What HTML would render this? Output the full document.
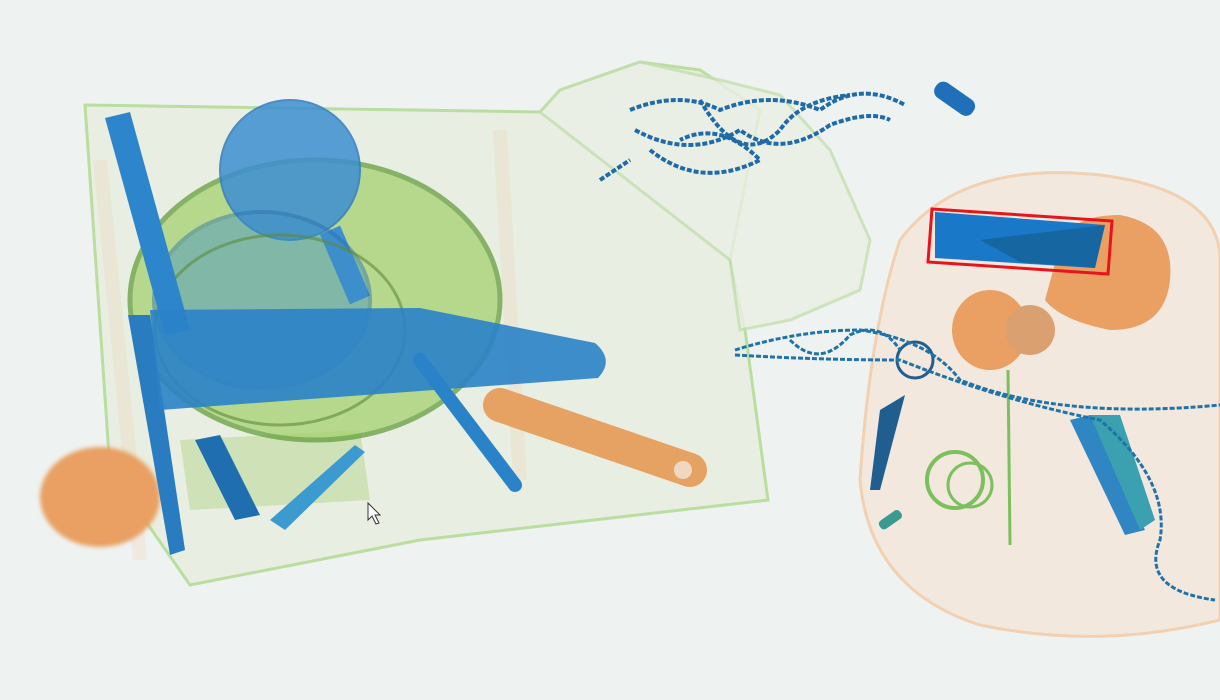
<!DOCTYPE html>
<html><head><meta charset="utf-8"><style>
html,body{margin:0;padding:0;background:#eef2f0;}
svg{display:block}
</style></head><body>
<svg width="1220" height="700" viewBox="0 0 1220 700" xmlns="http://www.w3.org/2000/svg">
<defs>
<filter id="blur2"><feGaussianBlur stdDeviation="2"/></filter>
</defs>
<rect width="1220" height="700" fill="#eef2f0"/>

<g>
<path d="M85,105 L540,112 L560,90 L640,62 L700,70 L760,110 L730,260 L745,330 L768,500 L420,540 L190,585 L110,470 Z" fill="#e8eee0" stroke="#b4dc98" stroke-width="3" opacity="0.9"/>
<path d="M540,112 L560,90 L640,62 L720,80 L780,95 L830,150 L870,240 L860,290 L790,320 L740,330 L730,260 Z" fill="#ebf0e6" stroke="#c4e0b0" stroke-width="3" opacity="0.8"/>
<path d="M100,160 L140,560 M500,130 L520,480" stroke="#f0c8a8" stroke-width="14" opacity="0.2"/>
</g>
<ellipse cx="100" cy="497" rx="60" ry="50" fill="#e9a062" filter="url(#blur2)"/>
<line x1="500" y1="405" x2="690" y2="470" stroke="#e6a263" stroke-width="34" stroke-linecap="round"/>
<circle cx="683" cy="470" r="9" fill="#eed8c0"/>
<path d="M180,440 L360,430 L370,500 L190,510 Z" fill="#c4dca4" opacity="0.7"/>

<ellipse cx="315" cy="300" rx="185" ry="140" fill="#a2d06a" opacity="0.7" stroke="#5d9a34" stroke-width="5"/>
<circle cx="290" cy="170" r="70" fill="#3d8fd2" opacity="0.85" stroke="#2f7cbf" stroke-width="2"/>
<line x1="330" y1="230" x2="360" y2="300" stroke="#3d8fd2" stroke-width="22"/>
<ellipse cx="262" cy="300" rx="108" ry="88" fill="#3f90c6" opacity="0.45" stroke="#2a6fa8" stroke-width="4"/>
<ellipse cx="280" cy="330" rx="125" ry="95" fill="none" stroke="#5d8a3a" stroke-width="3" opacity="0.6"/>
<path d="M105,118 L130,112 L190,330 L165,335 Z" fill="#2d86cc"/>
<path d="M128,315 L150,315 L185,550 L170,555 Z" fill="#2a7cc0"/>
<path d="M150,310 L420,308 L595,343 Q615,360 598,378 L160,410 Z" fill="#2a82c8" opacity="0.9"/>
<line x1="420" y1="360" x2="515" y2="485" stroke="#2a82c8" stroke-width="14" stroke-linecap="round"/>
<path d="M195,440 L220,435 L260,515 L235,520 Z" fill="#1f6fb0"/>
<path d="M270,520 L355,445 L365,452 L285,530 Z" fill="#3b9bd0"/>

<g fill="none" stroke="#1f6aa8" stroke-width="4" stroke-dasharray="5 2">
<path d="M630,110 Q680,90 720,110 Q770,90 820,110 Q860,80 905,105"/>
<path d="M635,130 Q690,160 740,130 Q780,160 830,125 Q870,110 890,120"/>
<path d="M650,150 Q700,190 760,160 Q720,120 680,140"/>
<path d="M700,100 Q740,170 780,130 Q800,100 850,95"/>
<path d="M600,180 L630,160"/>
</g>
<rect x="932" y="90" width="45" height="18" rx="8" transform="rotate(35 955 99)" fill="#1f70b8"/>

<g>
<path d="M900,240 Q960,160 1100,175 Q1220,190 1220,260 L1220,620 Q1100,650 980,625 Q870,590 860,480 Q870,330 900,240 Z" fill="#f2e8de" stroke="#f2d0b0" stroke-width="3"/>
<path d="M1000,310 Q1010,250 1060,240 Q1070,215 1120,215 Q1175,225 1170,280 Q1165,330 1110,330 Q1060,320 1045,300 Q1050,360 1000,370 Q950,360 960,310 Z" fill="none"/>
<path d="M1045,300 Q1060,320 1110,330 Q1165,330 1170,280 Q1175,225 1120,215 Q1070,215 1060,245 L1045,300 Z" fill="#e9a062"/>
<ellipse cx="990" cy="330" rx="38" ry="40" fill="#e9a062"/>
<ellipse cx="1030" cy="330" rx="25" ry="25" fill="#dba070"/>
<circle cx="955" cy="480" r="28" fill="none" stroke="#7cc05e" stroke-width="4"/>
<circle cx="970" cy="485" r="22" fill="none" stroke="#7cc05e" stroke-width="3"/>
<line x1="1008" y1="370" x2="1010" y2="545" stroke="#7cc05e" stroke-width="3"/>
<path d="M1070,420 L1090,415 L1145,530 L1125,535 Z" fill="#2f86c2"/>
<path d="M1090,415 L1120,415 L1155,520 L1140,530 Z" fill="#3ba0b0"/>
<path d="M880,410 L905,395 L880,490 L870,490 Z" fill="#1f5e8e"/>
<circle cx="915" cy="360" r="18" fill="none" stroke="#1f5e8e" stroke-width="3"/>
<rect x="878" y="515" width="25" height="10" rx="4" transform="rotate(-35 890 520)" fill="#3a9a90"/>
</g>
<g fill="none" stroke="#1f73a8" stroke-width="3" stroke-dasharray="5 2">
<path d="M735,350 Q800,330 860,330 Q930,340 960,380 Q1060,420 1220,405"/>
<path d="M735,355 Q820,360 900,360 Q1000,400 1100,420 Q1170,480 1160,540 Q1140,590 1215,600"/>
<path d="M790,340 Q820,370 850,335 Q880,320 900,350"/>
</g>

<path d="M935,212 L1105,225 L1095,268 L935,258 Z" fill="#1a78c8"/>
<path d="M980,240 L1105,225 L1095,268 L1020,262 Z" fill="#156090" opacity="0.7"/>
<polygon points="932,209 1112,221 1108,274 928,262" fill="none" stroke="#e8141c" stroke-width="3"/>
<path d="M368,503 L368,520 L372,516 L376,524 L379,523 L375,515 L380,515 Z" fill="#fff" stroke="#333" stroke-width="1"/>
</svg>
</body></html>
